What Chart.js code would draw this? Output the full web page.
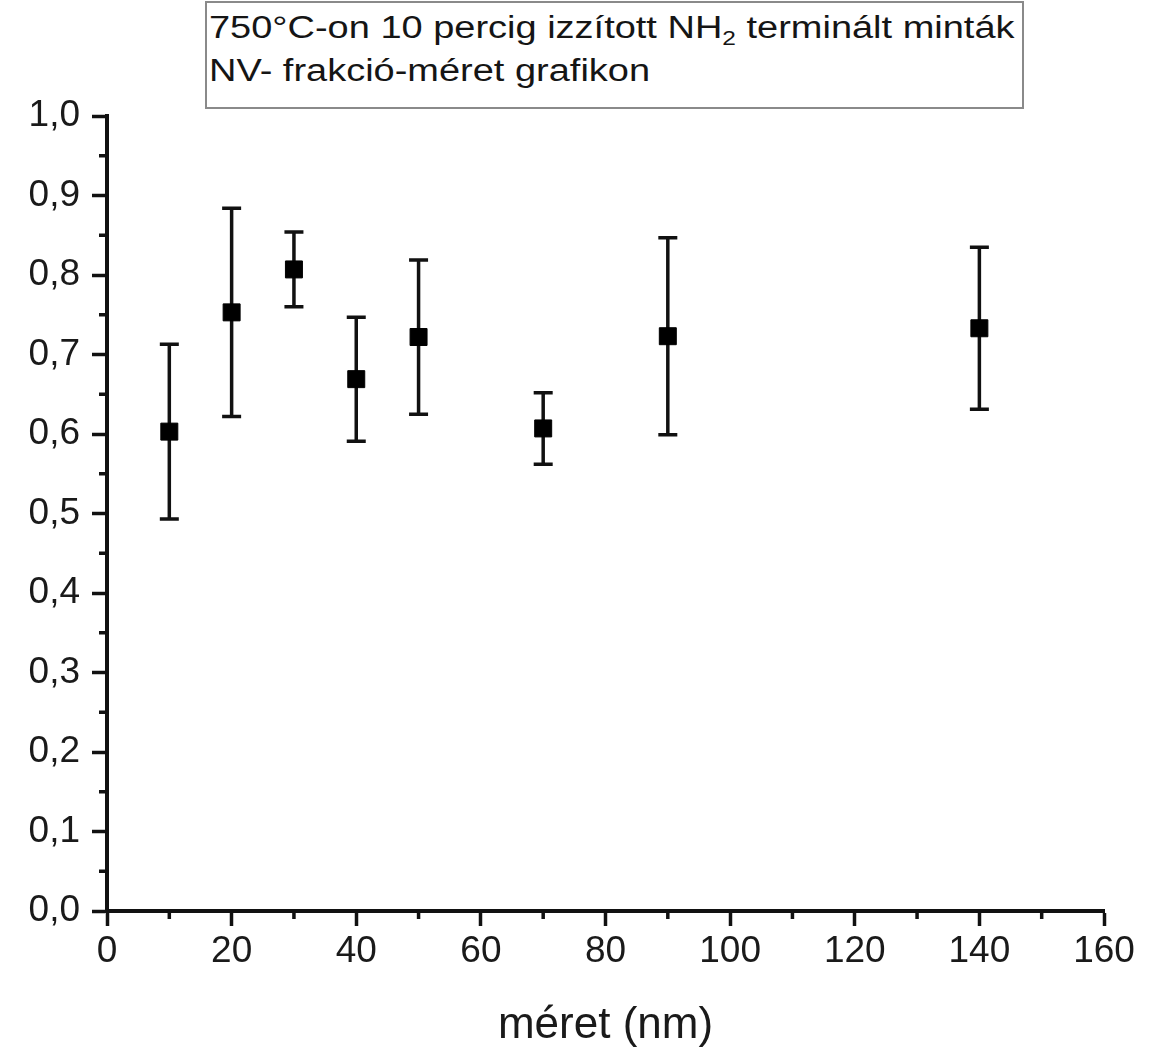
<!DOCTYPE html>
<html>
<head>
<meta charset="utf-8">
<script src="https://cdn.jsdelivr.net/npm/chart.js@4/dist/chart.umd.min.js"></script>
<style>
  body { margin: 0; background: #fff; }
  #wrap { position: relative; width: 1163px; height: 1052px; }
  #title-box {
    position: absolute; left: 205px; top: 1px; width: 813px; height: 101px;
    border: 2px solid #8a8a8a; background: #fff; overflow: hidden;
    font-family: "Liberation Sans", Arial, sans-serif; font-size: 31px;
    line-height: 43px; color: #151515; padding: 3px 0 0 2px; box-sizing: content-box;
  }
  #title-box .txt { display: inline-block; white-space: nowrap; transform: scaleX(1.225); transform-origin: 0 0; }
  #title-box sub { font-size: 20px; line-height: 0; vertical-align: -7px; }
</style>
</head>
<body>
<div id="wrap">
  <canvas id="chart" width="1163" height="1052"></canvas>
  <div id="title-box"><span class="txt">750°C-on 10 percig izzított NH<sub>2</sub> terminált minták<br>NV- frakció-méret grafikon</span></div>
</div>
<script>
// values
const sizes = [10, 20, 30, 40, 50, 70, 90, 140];
const fraction = [0.603, 0.753, 0.807, 0.669, 0.722, 0.607, 0.723, 0.733];
const errors = [0.110, 0.131, 0.047, 0.078, 0.097, 0.045, 0.124, 0.102];

const xMinor = [10, 30, 50, 70, 90, 110, 130, 150];
const yMinor = [0.05, 0.15, 0.25, 0.35, 0.45, 0.55, 0.65, 0.75, 0.85, 0.95];

const points = sizes.map((s, i) => ({ x: s, y: fraction[i] }));

// error bars go under the markers
const errorBars = {
  id: "errorBars",
  beforeDatasetsDraw(chart) {
    const ctx = chart.ctx;
    const xs = chart.scales.x, ys = chart.scales.y;
    ctx.save();
    ctx.strokeStyle = "#111";
    ctx.lineWidth = 3.5;
    sizes.forEach((s, i) => {
      const px = xs.getPixelForValue(s);
      const top = ys.getPixelForValue(fraction[i] + errors[i]);
      const bot = ys.getPixelForValue(fraction[i] - errors[i]);
      ctx.beginPath();
      ctx.moveTo(px, top); ctx.lineTo(px, bot);
      ctx.moveTo(px - 9.5, top); ctx.lineTo(px + 9.5, top);
      ctx.moveTo(px - 9.5, bot); ctx.lineTo(px + 9.5, bot);
      ctx.stroke();
    });
    ctx.restore();
  }
};

// short minor ticks between the labelled ones
const minorTicks = {
  id: "minorTicks",
  afterDraw(chart) {
    const ctx = chart.ctx;
    const xs = chart.scales.x, ys = chart.scales.y;
    const area = chart.chartArea;
    ctx.save();
    ctx.strokeStyle = "#111";
    ctx.lineWidth = 3.5;
    ctx.beginPath();
    xMinor.forEach(v => {
      const px = xs.getPixelForValue(v);
      ctx.moveTo(px, area.bottom); ctx.lineTo(px, area.bottom + 8);
    });
    yMinor.forEach(v => {
      const py = ys.getPixelForValue(v);
      ctx.moveTo(area.left, py); ctx.lineTo(area.left - 8, py);
    });
    ctx.stroke();
    ctx.restore();
  }
};

const tickFont = { family: "'Liberation Sans', Arial, sans-serif", size: 37 };

new Chart(document.getElementById("chart").getContext("2d"), {
  type: "scatter",
  data: {
    datasets: [{
      data: points,
      pointStyle: "rect",
      pointRadius: 12,
      pointHoverRadius: 12,
      backgroundColor: "#000",
      borderColor: "#000",
      borderWidth: 1
    }]
  },
  options: {
    responsive: false,
    animation: false,
    events: [],
    layout: { padding: { top: 116, right: 59, left: 0, bottom: 0 } },
    plugins: {
      legend: { display: false },
      tooltip: { enabled: false }
    },
    scales: {
      x: {
        type: "linear",
        min: 0, max: 160,
        afterFit(scale) { scale.height = 141; },
        border: { display: true, color: "#111", width: 4 },
        grid: { drawOnChartArea: false, tickLength: 15, tickWidth: 3.5, tickColor: "#111" },
        ticks: { stepSize: 20, padding: 4, color: "#1a1a1a", font: tickFont },
        title: {
          display: true, text: "méret (nm)", color: "#1a1a1a",
          font: { family: "'Liberation Sans', Arial, sans-serif", size: 44 },
          padding: { top: 0, bottom: 0 }
        }
      },
      y: {
        type: "linear",
        min: 0, max: 1,
        afterFit(scale) { scale.width = 107; },
        border: { display: true, color: "#111", width: 4 },
        grid: { drawOnChartArea: false, tickLength: 15, tickWidth: 3.5, tickColor: "#111" },
        ticks: {
          stepSize: 0.1, padding: 12, color: "#1a1a1a", font: tickFont,
          callback: v => v.toFixed(1).replace(".", ",")
        }
      }
    }
  },
  plugins: [errorBars, minorTicks]
});
</script>
</body>
</html>
